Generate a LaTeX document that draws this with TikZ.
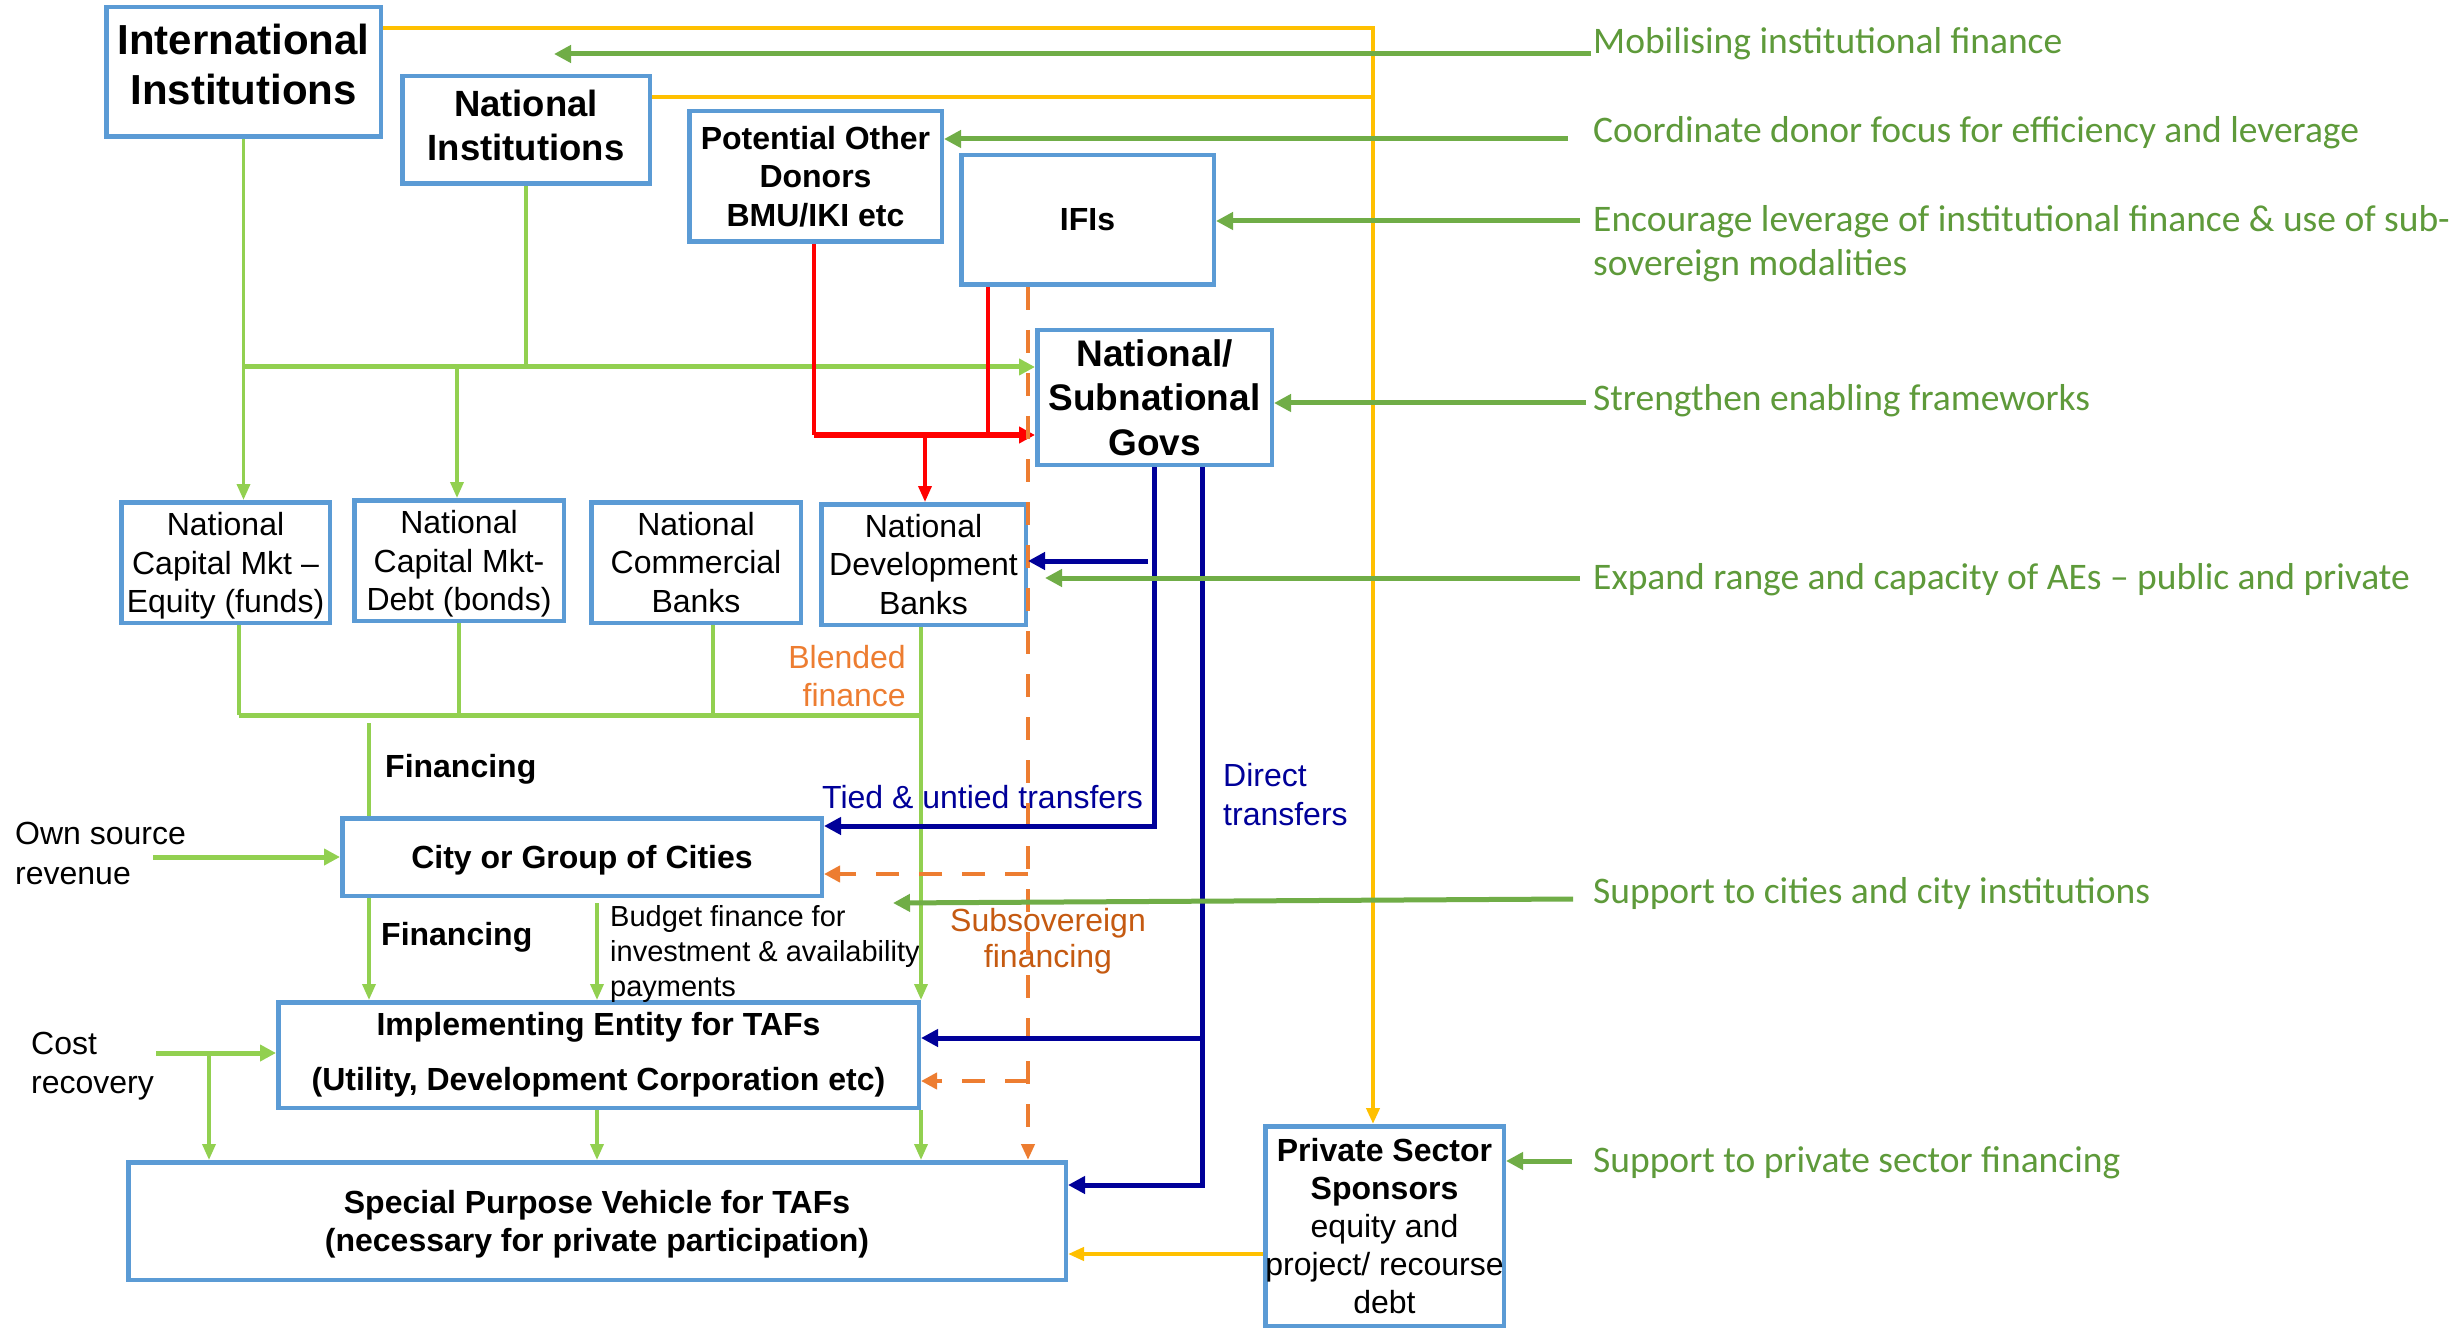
\documentclass[tikz,border=0pt]{standalone}
\usepackage{fontspec}
\setmainfont{Liberation Sans}
\newfontfamily\calfont{Carlito}
\usetikzlibrary{arrows.meta}
\definecolor{boxblue}{HTML}{5B9BD5}
\definecolor{lgreen}{HTML}{92D050}
\definecolor{dgreen}{HTML}{70AD47}
\definecolor{labgreen}{HTML}{5E9A3A}
\definecolor{navy}{HTML}{000099}
\definecolor{orng}{HTML}{ED7D31}
\definecolor{dorng}{HTML}{C55A11}
\definecolor{ylw}{HTML}{FFC000}
\definecolor{rd}{HTML}{FF0000}
\newcommand\fs[2]{\fontsize{#1}{#2}\selectfont}
\begin{document}
\begin{tikzpicture}[x=1pt,y=-1pt,
 box/.style={draw=boxblue,line width=4.5pt,fill=white,inner sep=0pt,align=center},
 tipT/.style={-{Triangle[length=17pt,width=17pt]}},
 tipm/.style={-{Triangle[length=16pt,width=16pt]}},
 tipt/.style={-{Triangle[length=16pt,width=13pt]}},
 lgthin/.style={draw=lgreen,line width=3.5pt},
 lgthick/.style={draw=lgreen,line width=5pt},
 dgline/.style={draw=dgreen,line width=5pt},
 navyline/.style={draw=navy,line width=5pt},
 redthin/.style={draw=rd,line width=3.5pt},
 redthick/.style={draw=rd,line width=5.5pt},
 ylwline/.style={draw=ylw,line width=4.5pt},
 orgdash/.style={draw=orng,line width=4pt,dash pattern=on 23pt off 20pt},
 lab/.style={font=\calfont\fs{37.5}{44},text=labgreen,inner sep=0pt,anchor=west,align=left},
 txt/.style={inner sep=0pt,anchor=west,align=left}
]
\fill[white] (0,0) rectangle (2461,1329);
\useasboundingbox (0,0) rectangle (2461,1329);

% ---------- boxes ----------
\node[box,minimum width=274.5pt,minimum height=129.5pt,font=\bfseries\fs{42}{50},text depth=16pt] (intl) at (243.5,72) {International\\Institutions};
\node[box,minimum width=247.5pt,minimum height=107.5pt,font=\bfseries\fs{36.5}{44},text depth=9pt] (natl) at (526,130) {National\\Institutions};
\node[box,minimum width=252.5pt,minimum height=130.5pt,font=\bfseries\fs{32}{38.5}] (pod) at (815.5,176.5) {Potential Other\\Donors\\BMU/IKI etc};
\node[box,minimum width=252.5pt,minimum height=129.5pt,font=\bfseries\fs{32}{38.5}] (ifis) at (1087.5,220) {IFIs};
\node[box,minimum width=234.5pt,minimum height=134.5pt,font=\bfseries\fs{37}{44.5}] (govs) at (1154.5,397.5) {National/\\Subnational\\Govs};
\node[box,minimum width=208.5pt,minimum height=120.5pt,font=\fs{32}{38.5},text depth=0pt] (ncme) at (225.5,562.5) {National\\Capital Mkt –\\Equity (funds)};
\node[box,minimum width=209.5pt,minimum height=120.5pt,font=\fs{32}{38.5},text depth=0pt] (ncmd) at (459,560.5) {National\\Capital Mkt-\\Debt (bonds)};
\node[box,minimum width=209.5pt,minimum height=120.5pt,font=\fs{32}{38.5}] (ncb) at (696,562.5) {National\\Commercial\\Banks};
\node[box,minimum width=204.5pt,minimum height=120.5pt,font=\fs{32}{38.5}] (ndb) at (923.5,564.5) {National\\Development\\Banks};
\node[box,minimum width=479.5pt,minimum height=77.5pt,font=\bfseries\fs{32}{38},text depth=0pt] (city) at (582,857) {City or Group of Cities};
\node[box,minimum width=640.5pt,minimum height=105.5pt,font=\bfseries\fs{32}{38}] (impl) at (598.5,1055) {Implementing Entity for TAFs\\[17pt](Utility, Development Corporation etc)};
\node[box,minimum width=937.5pt,minimum height=117.5pt,font=\bfseries\fs{32}{38},text depth=0pt] (spv) at (597,1221) {Special Purpose Vehicle for TAFs\\(necessary for private participation)};
\node[box,minimum width=238.5pt,minimum height=199.5pt,font=\fs{32}{38}] (pss) at (1384.5,1226) {\textbf{Private Sector}\\\textbf{Sponsors}\\equity and\\project/ recourse\\debt};

% ---------- free texts ----------
\node[lab] (l1) at (1593,44) {Mobilising institutional finance};
\node[lab] (l2) at (1593,133) {Coordinate donor focus for efficiency and leverage};
\node[lab] (l3) at (1593,244) {Encourage leverage of institutional finance \& use of sub-\\sovereign modalities};
\node[lab] (l4) at (1593,401) {Strengthen enabling frameworks};
\node[lab] (l5) at (1593,580) {Expand range and capacity of AEs – public and private};
\node[lab] (l6) at (1593,893) {Support to cities and city institutions};
\node[lab] (l7) at (1593,1163) {Support to private sector financing};

\node[txt,font=\bfseries\fs{32}{38}] (fin1) at (385,769) {Financing};
\node[txt,font=\bfseries\fs{32}{38}] (fin2) at (381,937) {Financing};
\node[txt,font=\fs{29}{35}] (budget) at (610,954) {Budget finance for\\investment \& availability\\payments};
\node[inner sep=0pt,anchor=east,align=right,font=\fs{32}{38},text=orng] (blend) at (906,676) {Blended\\finance};
\node[inner sep=0pt,align=center,font=\fs{32}{36},text=dorng] (subsov) at (1048,941) {Subsovereign\\financing};
\node[txt,font=\fs{32}{38},text=navy] (tied) at (822,797) {Tied \& untied transfers};
\node[txt,font=\fs{32}{39},text=navy] (direct) at (1223,795) {Direct\\transfers};
\node[txt,font=\fs{32}{40}] (own) at (15,853) {Own source\\revenue};
\node[txt,font=\fs{32}{39}] (cost) at (31,1066) {Cost\\recovery};

% ---------- coordinates ----------
\coordinate (yc1) at (1373,28);
\coordinate (yc2) at (1373,97);
\coordinate (yc3) at (1300,1254);
\coordinate (a1s) at (1591,54);
\coordinate (a1e) at (554,54);
\coordinate (a2s) at (1568,139);
\coordinate (a3s) at (1580,221);
\coordinate (a4s) at (1586,403);
\coordinate (a5s) at (1580,578);
\coordinate (a5e) at (1045,578);
\coordinate (a6s) at (1573,899);
\coordinate (a6e) at (893,903);
\coordinate (a7s) at (1572,1161);
\coordinate (g1) at (243.5,367);
\coordinate (g2) at (457,367);
\coordinate (b1) at (239,715);
\coordinate (b3) at (713,717);
\coordinate (b4) at (921,715);
\coordinate (f1) at (369,723);
\coordinate (f2) at (597,903);
\coordinate (os) at (153,857);
\coordinate (cr) at (156,1053);
\coordinate (cr2) at (209,1053);
\coordinate (r1) at (814,435);
\coordinate (r2) at (988,435);
\coordinate (r3) at (925,435);
\coordinate (n1) at (1154.5,826);
\coordinate (n2) at (1202,1185);
\coordinate (n3) at (1148,561);
\coordinate (n4) at (1202,1038);
\coordinate (o1) at (1028,287);
\coordinate (o2) at (1028,874);
\coordinate (o3) at (1028,1081);

% ---------- light green flows ----------
\draw[lgthin,tipt] (intl.south) -- (intl.south |- ncme.north);
\draw[lgthick,tipm] (g1) -- (govs.west |- g1);
\draw[lgthin] (natl.south) -- (natl.south |- g1);
\draw[lgthin,tipt] (g2) -- (g2 |- ncmd.north);
\draw[lgthin] (b1 |- ncme.south) -- (b1);
\draw[lgthin] (ncmd.south) -- (ncmd.south |- b1);
\draw[lgthin] (b3 |- ncb.south) -- (b3);
\draw[lgthick] (b1) -- (b4);
\draw[lgthin,tipt] (b4 |- ndb.south) -- (b4 |- impl.north);
\draw[lgthin] (f1) -- (f1 |- city.north);
\draw[lgthin,tipt] (f1 |- city.south) -- (f1 |- impl.north);
\draw[lgthin,tipt] (f2) -- (f2 |- impl.north);
\draw[lgthick,tipm] (os) -- (city.west |- os);
\draw[lgthick,tipm] (cr) -- (impl.west |- cr);
\draw[lgthin,tipt] (cr2) -- (cr2 |- spv.north);
\draw[lgthin,tipt] (f2 |- impl.south) -- (f2 |- spv.north);
\draw[lgthin,tipt] (b4 |- impl.south) -- (b4 |- spv.north);

% ---------- red ----------
\draw[redthin] (r1 |- pod.south) -- (r1);
\draw[redthin] (r2 |- ifis.south) -- (r2);
\draw[redthick,tipm] (r1) -- (govs.west |- r1);
\draw[redthin,tipt] (r3) -- (r3 |- ndb.north);

% ---------- orange dashed ----------
\draw[orgdash,tipt] (o1 |- ifis.south) -- (o1 |- spv.north);
\draw[orgdash,tipm] (o2) -- (city.east |- o2);
\draw[orgdash,tipm] (o3) -- (impl.east |- o3);

% ---------- navy ----------
\draw[navyline,tipT] (n1 |- govs.south) -- (n1) -- (city.east |- n1);
\draw[navyline,tipT] (n3) -- (ndb.east |- n3);
\draw[navyline,tipT] (n2 |- govs.south) -- (n2) -- (spv.east |- n2);
\draw[navyline,tipT] (n4) -- (impl.east |- n4);

% ---------- yellow ----------
\draw[ylwline,tipt] (intl.east |- yc1) -- (yc1) -- (yc1 |- pss.north);
\draw[ylwline] (natl.east |- yc2) -- (yc2);
\draw[ylwline,tipt] (pss.west |- yc3) -- (spv.east |- yc3);

% ---------- dark green (right labels) ----------
\draw[dgline,tipT] (a1s) -- (a1e);
\draw[dgline,tipT] (a2s) -- (pod.east |- a2s);
\draw[dgline,tipT] (a3s) -- (ifis.east |- a3s);
\draw[dgline,tipT] (a4s) -- (govs.east |- a4s);
\draw[dgline,tipT] (a5s) -- (a5e);
\draw[dgline,tipT] (a6s) -- (a6e);
\draw[dgline,tipT] (a7s) -- (pss.east |- a7s);
\end{tikzpicture}
\end{document}
